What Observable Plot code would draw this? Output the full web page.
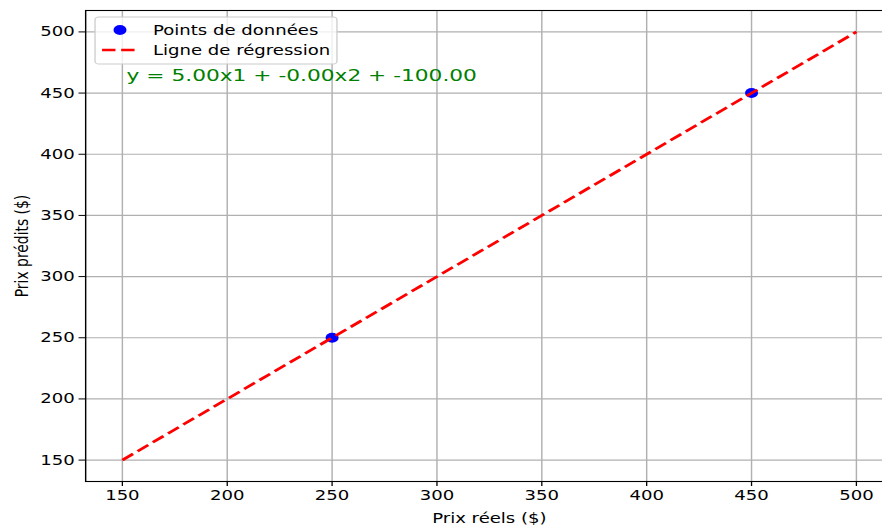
<!DOCTYPE html>
<html>
<head>
<meta charset="utf-8">
<script src="https://cdn.jsdelivr.net/npm/d3@7"></script>
<script src="https://cdn.jsdelivr.net/npm/@observablehq/plot@0.6"></script>
<style>
  html, body { margin: 0; padding: 0; background: #fff; }
  #chart { width: 882px; height: 525px; overflow: hidden; position: relative; }
  #chart svg { transform: scaleX(1.3); transform-origin: 0 0; display: block; }
</style>
</head>
<body>
<div id="chart"></div>
<script>
// Observed vs predicted prices
const actualPrices = [250, 450];
const predictedPrices = [250, 450];

// Fitted regression line (ideal prediction)
const lineActual = [150, 500];
const linePredicted = [150, 500];

// Model coefficients shown in the annotation
const coefficients = [5.0, -0.0004];
const intercept = -100.0;

// Axis ticks
const tickValues = [150, 200, 250, 300, 350, 400, 450, 500];
const axisDomain = [132.5, 517.5];

const points = actualPrices.map((a, i) => ({actual: a, predicted: predictedPrices[i]}));
const regression = lineActual.map((a, i) => ({actual: a, predicted: linePredicted[i]}));
const equation = `y = ${coefficients[0].toFixed(2)}x1 + ${coefficients[1].toFixed(2)}x2 + ${intercept.toFixed(2)}`;

const font = "DejaVu Sans";
const fs = 13.9;
const lineWidth = 2.6;
const dash = "10.3,4.4";

const marginLeft = 65.4, marginTop = 10;

const chart = Plot.plot({
  width: 690,
  height: 525,
  marginLeft,
  marginRight: 3.5,
  marginTop,
  marginBottom: 44,
  style: {fontFamily: font, fontSize: fs + "px", color: "black", background: "white", overflow: "visible"},
  x: {domain: axisDomain, ticks: tickValues},
  y: {domain: axisDomain, ticks: tickValues},
  marks: [
    Plot.gridX(tickValues, {stroke: "#b0b0b0", strokeOpacity: 1, strokeWidth: 1.1}),
    Plot.gridY(tickValues, {stroke: "#b0b0b0", strokeOpacity: 1, strokeWidth: 1.1}),
    Plot.axisX(tickValues, {
      tickSize: 5, tickPadding: 3.5, fontSize: fs, tickFormat: d => String(d),
      label: "Prix réels ($)", labelAnchor: "center", labelArrow: "none", labelOffset: 41
    }),
    Plot.axisY(tickValues, {
      tickSize: 5, tickPadding: 3.5, fontSize: fs, tickFormat: d => String(d),
      label: "Prix prédits ($)", labelAnchor: "center", labelArrow: "none", labelOffset: 54
    }),
    Plot.dot(points, {x: "actual", y: "predicted", r: 5, fill: "blue", stroke: "none"}),
    Plot.line(regression, {
      x: "actual", y: "predicted", stroke: "red", strokeWidth: lineWidth,
      strokeDasharray: dash, strokeLinecap: "butt"
    }),
    Plot.text([equation], {
      frameAnchor: "top-left", dx: 31.5, dy: 65, text: d => d,
      textAnchor: "start", lineAnchor: "middle", fill: "green", fontSize: 16.7
    }),
    Plot.frame({stroke: "black", strokeWidth: 1.1})
  ]
});

// Legend box in the upper-left corner of the plot area
const svg = d3.select(chart);
const legend = svg.append("g")
  .attr("font-family", font).attr("font-size", fs).attr("text-anchor", "start");
legend.append("rect")
  .attr("x", 73.1).attr("y", 17).attr("width", 186.1).attr("height", 47)
  .attr("rx", 2.8).attr("ry", 2.8)
  .attr("fill", "white").attr("fill-opacity", 0.8)
  .attr("stroke", "#cccccc").attr("stroke-width", 1);
legend.append("circle")
  .attr("cx", 92.3).attr("cy", 30).attr("r", 5).attr("fill", "blue");
legend.append("text")
  .attr("x", 117.7).attr("y", 30).attr("dy", "0.35em").attr("fill", "black")
  .text("Points de données");
legend.append("line")
  .attr("x1", 78.5).attr("x2", 103.8).attr("y1", 50).attr("y2", 50)
  .attr("stroke", "red").attr("stroke-width", lineWidth).attr("stroke-dasharray", dash);
legend.append("text")
  .attr("x", 117.7).attr("y", 50).attr("dy", "0.35em").attr("fill", "black")
  .text("Ligne de régression");

document.getElementById("chart").appendChild(chart);
</script>
</body>
</html>
